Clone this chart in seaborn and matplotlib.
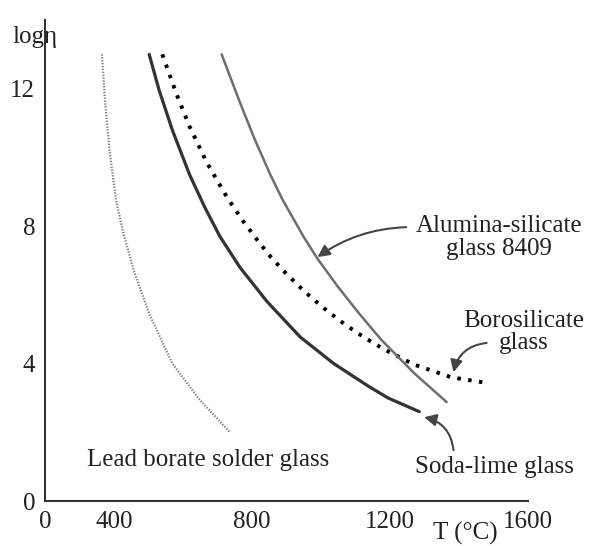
import pandas as pd
import matplotlib.pyplot as plt
import seaborn as sns

# Viscosity curves: temperature (°C) and log(viscosity)
soda_T = [502, 531, 569, 619, 663, 707, 765, 844, 940, 1037, 1136, 1194, 1285]
soda_log = [13.0, 11.95, 10.8, 9.5, 8.55, 7.7, 6.8, 5.8, 4.77, 4.0, 3.35, 3.0, 2.6]

boro_T = [540, 581, 619, 669, 727, 774, 815, 853, 891, 934, 978, 1022, 1072,
          1124, 1180, 1270, 1378, 1472]
boro_log = [13.0, 11.85, 10.9, 9.85, 8.85, 8.15, 7.6, 7.12, 6.7, 6.27, 5.87,
            5.5, 5.12, 4.77, 4.43, 3.97, 3.6, 3.45]

alum_T = [712, 765, 809, 853, 888, 949, 990, 1048, 1107, 1174, 1270, 1364]
alum_log = [13.0, 11.6, 10.5, 9.5, 8.78, 7.7, 7.05, 6.25, 5.5, 4.7, 3.72, 2.88]

lead_T = [365, 374, 387, 406, 426, 456, 502, 569, 648, 736]
lead_log = [13.0, 11.65, 10.2, 8.75, 7.85, 6.75, 5.45, 4.0, 2.95, 2.0]

# Axis ticks ("0" marks the broken start of the temperature axis)
x_ticks = [200, 400, 800, 1200, 1600]
x_labels = ['0', '400', '800', '1200', '1600']
x_minor = [600, 1000, 1400]
y_ticks = [0, 4, 8, 12]
y_minor = [2, 6, 10, 14]

sns.set_theme(style='white')
plt.rcParams['font.family'] = ['Liberation Serif', 'DejaVu Serif']
plt.rcParams['text.color'] = '#222222'
plt.rcParams['lines.solid_joinstyle'] = 'round'

fig = plt.figure(figsize=(5.89, 5.46), dpi=100)
ax = fig.add_axes([45 / 589, 45 / 546, 483 / 589, 481 / 546])

sns.lineplot(x=lead_T, y=lead_log, ax=ax, color='#808080', lw=1.6,
             linestyle=(0, (0.6, 0.7)), sort=False)
sns.lineplot(x=soda_T, y=soda_log, ax=ax, color='#333333', lw=2.3, sort=False)
sns.lineplot(x=boro_T, y=boro_log, ax=ax, color='black', lw=2.8,
             linestyle=(0, (0.9, 1.9)), sort=False)
sns.lineplot(x=alum_T, y=alum_log, ax=ax, color='#6e6e6e', lw=1.8, sort=False)

ax.set_xlim(200, 1600)
ax.set_ylim(0, 14)
ax.set_xticks(x_ticks, x_labels)
ax.set_xticks(x_minor, minor=True)
ax.set_yticks(y_ticks)
ax.set_yticks(y_minor, minor=True)
ax.tick_params(which='both', direction='in', length=6.5, width=1.2,
               color='#333333', labelsize=18, labelcolor='#222222')
ax.tick_params(axis='x', pad=7)
ax.tick_params(axis='y', pad=7)
ax.set_xlabel('')
ax.set_ylabel('')

for side in ['top', 'right']:
    ax.spines[side].set_visible(False)
for side in ['left', 'bottom']:
    ax.spines[side].set_color('#333333')
    ax.spines[side].set_linewidth(1.5)

# Curve labels
txt = dict(fontsize=18, ha='center', va='center', clip_on=False)
ax.text(1515, 7.67, 'Alumina-silicate\nglass 8409', linespacing=1.05, **txt)
ax.text(1588, 4.92, 'Borosilicate\nglass', linespacing=1.05, **txt)
ax.text(1504, 0.99, 'Soda-lime glass', **txt)
ax.text(672, 1.19, 'Lead borate solder glass', **txt)

arrow = dict(arrowstyle='-|>', color='#444444', lw=1.5, mutation_scale=18,
             shrinkA=0, shrinkB=0)
ax.annotate('', xy=(990, 7.1), xytext=(1247, 7.97),
            arrowprops=dict(connectionstyle='arc3,rad=0.15', **arrow))
ax.annotate('', xy=(1384, 3.75), xytext=(1480, 4.6),
            arrowprops=dict(connectionstyle='arc3,rad=0.35', **arrow))
ax.annotate('', xy=(1299, 2.44), xytext=(1384, 1.48),
            arrowprops=dict(connectionstyle='arc3,rad=0.35', **arrow))

# Axis titles
fig.text(35 / 589, 1 - 37 / 546, 'logη', fontsize=18, ha='center', va='center')
fig.text(465 / 589, 1 - 533 / 546, 'T (°C)', fontsize=18, ha='center', va='center')

fig.savefig('out.png', dpi=100, facecolor='white')
